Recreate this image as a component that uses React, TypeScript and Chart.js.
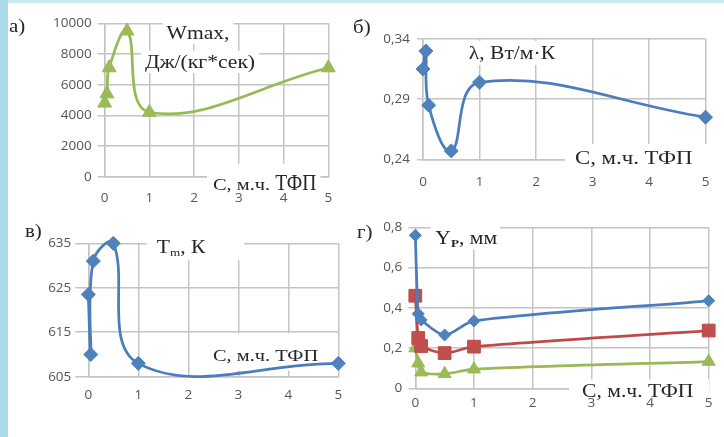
import React, { useEffect, useRef } from 'react';
import { Chart, registerables } from 'chart.js';

Chart.register(...registerables);

// ---------- DATA ----------
const cValues = [0, 0.05, 0.1, 0.5, 1, 5];
const wmaxValues = [4800, 5400, 7100, 9500, 4200, 7100];
const lambdaValues = [0.315, 0.33, 0.285, 0.247, 0.304, 0.275];
const tmValues = [623.5, 610, 631, 635, 608, 608];
const ypSeries1 = [0.76, 0.37, 0.34, 0.265, 0.335, 0.435];
const ypSeries2 = [0.46, 0.25, 0.21, 0.175, 0.207, 0.287];
const ypSeries3 = [0.2, 0.125, 0.08, 0.072, 0.095, 0.133];

const xTickValues = [0, 1, 2, 3, 4, 5];
const wmaxTicks = [0, 2000, 4000, 6000, 8000, 10000];
const lambdaTicks = [0.24, 0.29, 0.34];
const tmTicks = [605, 615, 625, 635];
const ypTicks = [0, 0.2, 0.4, 0.6, 0.8];

const axisLabelA = 'С, м.ч. ';
const axisLabelB = 'ТФП';
// ---------------------------

const W = 724;
const H = 437;
const SERIF = '"Liberation Serif", "Times New Roman", serif';
const TICK_FONT = { family: '"Open Sans", "Liberation Sans", sans-serif', size: 13.5 };
const TICK_COLOR = '#555555';
const GRID_COLOR = '#c4c4c4';
const BLUE = '#4a7ebb';
const BLUE_M = '#4f81bd';
const RED = '#be4b48';
const RED_M = '#c0504d';
const GREEN = '#98b954';
const GREEN_M = '#9bbb59';

type Seg = { t: string; size: number; sx?: number; dy?: number; bold?: boolean };
type Annot = { x: number; y: number; align?: 'left' | 'center'; segs: Seg[]; box?: [number, number, number, number] };

function annotPlugin(items: Annot[]) {
  return {
    id: 'annots',
    beforeDatasetsDraw(chart: any) {
      const ctx: CanvasRenderingContext2D = chart.ctx;
      for (const item of items) {
        ctx.save();
        ctx.textBaseline = 'alphabetic';
        ctx.textAlign = 'left';
        const widths = item.segs.map((s) => {
          ctx.font = `${s.bold ? 'bold ' : ''}${s.size}px ${SERIF}`;
          return ctx.measureText(s.t).width * (s.sx ?? 1.2);
        });
        const total = widths.reduce((a, b) => a + b, 0);
        const maxSize = Math.max(...item.segs.map((s) => s.size));
        const left = item.align === 'center' ? item.x - total / 2 : item.x;
        if (item.box) {
          const [pl, pt, pr, pb] = item.box;
          ctx.fillStyle = '#ffffff';
          const top = item.y - 0.45 * maxSize - pt;
          const bottom = item.y + 0.45 * maxSize + pb;
          ctx.fillRect(left - pl, top, total + pl + pr, bottom - top);
        }
        ctx.fillStyle = '#262626';
        let cx = left;
        item.segs.forEach((s, i) => {
          ctx.font = `${s.bold ? 'bold ' : ''}${s.size}px ${SERIF}`;
          ctx.save();
          ctx.translate(cx, item.y + 0.33 * maxSize + (s.dy ?? 0));
          ctx.scale(s.sx ?? 1.2, 1);
          ctx.fillText(s.t, 0, 0);
          ctx.restore();
          cx += widths[i];
        });
        ctx.restore();
      }
    },
  };
}

type Panel = {
  area: { l: number; t: number; r: number; b: number };
  yMin: number;
  yMax: number;
  yTicks: number[];
  yFmt: (v: number) => string;
  yTickLen: number;
  yPad: number;
  xPad: number;
  datasets: any[];
  annots: Annot[];
};

function series(ys: number[], line: string, marker: string, style: string, radius: number, tension: number) {
  return {
    data: cValues.map((x, i) => ({ x, y: ys[i] })),
    showLine: true,
    borderColor: line,
    borderWidth: 2.75,
    backgroundColor: marker,
    pointBackgroundColor: marker,
    pointBorderColor: line,
    pointBorderWidth: 1,
    pointStyle: style,
    pointRadius: radius,
    tension,
    clip: false,
  };
}

const Y_W = 80;
const X_H = 40;

function makeConfig(p: Panel): any {
  return {
    type: 'scatter',
    data: { datasets: p.datasets },
    options: {
      animation: false,
      responsive: false,
      devicePixelRatio: 1,
      events: [],
      layout: {
        padding: {
          left: p.area.l - Y_W,
          top: p.area.t,
          right: W - p.area.r,
          bottom: H - p.area.b - X_H,
        },
      },
      elements: { line: { capBezierPoints: false } },
      plugins: { legend: { display: false }, tooltip: { enabled: false } },
      scales: {
        x: {
          type: 'linear',
          min: 0,
          max: 5,
          afterBuildTicks: (s: any) => {
            s.ticks = xTickValues.map((v) => ({ value: v }));
          },
          afterFit: (s: any) => {
            s.height = X_H;
          },
          ticks: {
            font: TICK_FONT,
            color: TICK_COLOR,
            padding: p.xPad,
            maxRotation: 0,
            z: 1,
            callback: (v: number) => String(v),
          },
          grid: { color: GRID_COLOR, lineWidth: 1.5, drawTicks: false },
          border: { color: GRID_COLOR, width: 1.5 },
        },
        y: {
          type: 'linear',
          min: p.yMin,
          max: p.yMax,
          afterBuildTicks: (s: any) => {
            s.ticks = p.yTicks.map((v) => ({ value: v }));
          },
          afterFit: (s: any) => {
            s.width = Y_W;
          },
          ticks: {
            font: TICK_FONT,
            color: TICK_COLOR,
            padding: p.yPad,
            z: 1,
            callback: (v: number) => p.yFmt(v),
          },
          grid: { color: GRID_COLOR, lineWidth: 1.5, drawTicks: true, tickLength: p.yTickLen },
          border: { color: GRID_COLOR, width: 1.5 },
        },
      },
    },
    plugins: [annotPlugin(p.annots)],
  };
}

const comma = (v: number, d: number) => (v === 0 ? '0' : v.toFixed(d).replace('.', ','));

const panels: Panel[] = [
  {
    area: { l: 104.7, t: 23.3, r: 328.3, b: 176.7 },
    yMin: 0,
    yMax: 10000,
    yTicks: wmaxTicks,
    yFmt: (v) => String(v),
    yTickLen: 7,
    yPad: 6,
    xPad: 13.5,
    datasets: [series(wmaxValues, GREEN, GREEN_M, 'triangle', 8, 0.4)],
    annots: [
      { x: 9, y: 26, segs: [{ t: 'а)', size: 19, sx: 1.1 }] },
      { x: 198, y: 33, align: 'center', segs: [{ t: 'Wmax,', size: 18 }], box: [4, 4, 4, 3] },
      { x: 200, y: 62, align: 'center', segs: [{ t: 'Дж/(кг*сек)', size: 18 }], box: [4, 3, 4, 3] },
      {
        x: 213,
        y: 182,
        segs: [
          { t: axisLabelA, size: 17, sx: 1.2 },
          { t: axisLabelB, size: 23, sx: 0.85 },
        ],
        box: [6, 8, 4, 0],
      },
    ],
  },
  {
    area: { l: 423, t: 39, r: 706.3, b: 159.3 },
    yMin: 0.24,
    yMax: 0.34,
    yTicks: lambdaTicks,
    yFmt: (v) => comma(v, 2),
    yTickLen: 6,
    yPad: 7,
    xPad: 14.6,
    datasets: [series(lambdaValues, BLUE, BLUE_M, 'rectRot', 7, 0.4)],
    annots: [
      { x: 353, y: 27, segs: [{ t: 'б)', size: 19, sx: 1.1 }] },
      { x: 468.7, y: 53, segs: [{ t: 'λ, Вт/м·К', size: 18 }], box: [4, 4, 4, 4] },
      { x: 575, y: 157.5, segs: [{ t: axisLabelA + axisLabelB, size: 19 }], box: [10, 5, 16, 4] },
    ],
  },
  {
    area: { l: 88.3, t: 243.3, r: 338.3, b: 376.7 },
    yMin: 605,
    yMax: 635,
    yTicks: tmTicks,
    yFmt: (v) => String(v),
    yTickLen: 13,
    yPad: 4,
    xPad: 10.5,
    datasets: [series(tmValues, BLUE, BLUE_M, 'rectRot', 7, 0.4)],
    annots: [
      { x: 25, y: 231, segs: [{ t: 'в)', size: 19, sx: 1.1 }] },
      {
        x: 156.7,
        y: 247.3,
        segs: [
          { t: 'T', size: 18 },
          { t: 'm', size: 11, dy: 3 },
          { t: ', К', size: 18 },
        ],
        box: [10, 5, 39, 5],
      },
      { x: 213, y: 355, segs: [{ t: axisLabelA + axisLabelB, size: 17 }], box: [10, 14, 6, 8] },
    ],
  },
  {
    area: { l: 415.3, t: 227.3, r: 708.7, b: 388.3 },
    yMin: 0,
    yMax: 0.8,
    yTicks: ypTicks,
    yFmt: (v) => comma(v, 1),
    yTickLen: 7,
    yPad: 6,
    xPad: 7.2,
    datasets: [
      series(ypSeries1, BLUE, BLUE_M, 'rectRot', 6, 0.3),
      series(ypSeries2, RED, RED_M, 'rect', 9, 0.3),
      series(ypSeries3, GREEN, GREEN_M, 'triangle', 7.5, 0.3),
    ],
    annots: [
      { x: 357, y: 232, segs: [{ t: 'г)', size: 19, sx: 1.1 }] },
      {
        x: 435.3,
        y: 238.3,
        segs: [
          { t: 'Y', size: 18 },
          { t: 'P', size: 11, dy: 3, bold: true },
          { t: ', мм', size: 18 },
        ],
        box: [5, 4, 3, 3],
      },
      { x: 582, y: 391.5, segs: [{ t: axisLabelA + axisLabelB, size: 18 }], box: [13, 4, 16, 0] },
    ],
  },
];

function ChartLayer({ panel }: { panel: Panel }) {
  const ref = useRef<HTMLCanvasElement | null>(null);
  useEffect(() => {
    if (!ref.current) return;
    const chart = new Chart(ref.current, makeConfig(panel));
    return () => chart.destroy();
  }, [panel]);
  return (
    <canvas
      ref={ref}
      width={W}
      height={H}
      style={{ position: 'absolute', left: 0, top: 0, width: W, height: H }}
    />
  );
}

export default function App() {
  return (
    <div
      style={{
        position: 'fixed',
        left: 0,
        top: 0,
        width: W,
        height: H,
        background: '#ffffff',
        overflow: 'hidden',
      }}
    >
      <div style={{ position: 'absolute', left: 0, top: 0, width: W, height: 3, background: '#cbe9f3' }} />
      <div style={{ position: 'absolute', left: 0, top: 0, width: 8, height: H, background: '#a9dbeb' }} />
      {panels.map((p, i) => (
        <ChartLayer key={i} panel={p} />
      ))}
    </div>
  );
}
